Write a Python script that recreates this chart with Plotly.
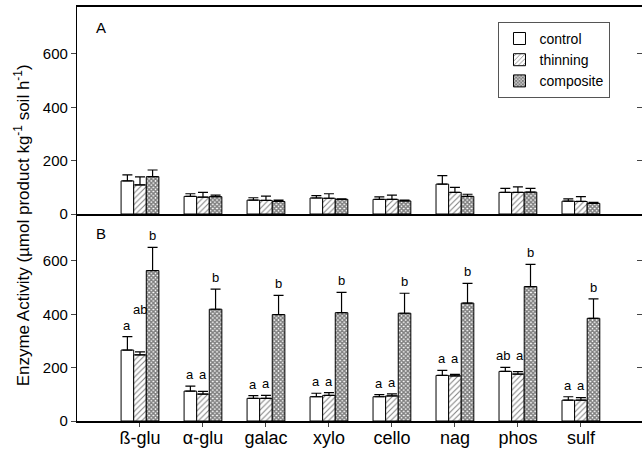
import plotly.graph_objects as go
from plotly.subplots import make_subplots

categories = ["ß-glu", "α-glu", "galac", "xylo", "cello", "nag", "phos", "sulf"]
series_names = ["control", "thinning", "composite"]

# Panel A values and upper error-bar tips
a_control = [124, 66, 52, 60, 55, 112, 81, 48]
a_control_top = [147, 76, 61, 69, 64, 144, 96, 57]
a_thinning = [109, 63, 51, 59, 55, 81, 81, 47]
a_thinning_top = [139, 81, 67, 76, 71, 100, 102, 65]
a_composite = [140, 65, 47, 55, 49, 66, 82, 40]
a_composite_top = [165, 71, 52, 57, 52, 74, 96, 44]

# Panel B values and upper error-bar tips
b_control = [266, 112, 85, 91, 91, 171, 186, 78]
b_control_top = [316, 131, 95, 104, 99, 190, 201, 91]
b_thinning = [248, 101, 85, 96, 94, 169, 176, 78]
b_thinning_top = [259, 111, 96, 106, 102, 175, 185, 88]
b_composite = [564, 419, 399, 406, 404, 442, 504, 385]
b_composite_top = [651, 494, 471, 482, 479, 516, 587, 458]

b_control_letters = ["a", "a", "a", "a", "a", "a", "ab", "a"]
b_thinning_letters = ["ab", "a", "a", "a", "a", "a", "a", "a"]
b_composite_letters = ["b", "b", "b", "b", "b", "b", "b", "b"]

y_ticks = [0, 200, 400, 600]
y_max = 776

FONT = "Liberation Sans, Arial, sans-serif"
xpos = list(range(1, len(categories) + 1))

patterns = [
    dict(shape="", fillmode="replace"),
    dict(shape="/", size=4, solidity=0.25, fgcolor="black", bgcolor="white"),
    dict(shape="x", size=3, solidity=0.75, fgcolor="black", bgcolor="white"),
]

fig = make_subplots(rows=2, cols=1, shared_xaxes=True, vertical_spacing=0)

panels = [
    (1, [a_control, a_thinning, a_composite], [a_control_top, a_thinning_top, a_composite_top]),
    (2, [b_control, b_thinning, b_composite], [b_control_top, b_thinning_top, b_composite_top]),
]
for row, vals, tops in panels:
    for i, name in enumerate(series_names):
        v = vals[i]
        t = tops[i]
        fig.add_trace(
            go.Bar(
                x=xpos, y=v, name=name, showlegend=(row == 1),
                marker=dict(color="white", line=dict(color="black", width=1),
                            pattern=patterns[i]),
                error_y=dict(type="data", symmetric=False,
                             array=[tt - vv for tt, vv in zip(t, v)],
                             arrayminus=[0] * len(v),
                             color="black", thickness=1.2, width=5),
            ),
            row=row, col=1,
        )

# significance letters in panel B
offsets = [-0.2, 0.0, 0.2]
letter_sets = [b_control_letters, b_thinning_letters, b_composite_letters]
tops_b = [b_control_top, b_thinning_top, b_composite_top]
for s in range(3):
    for k, letter in enumerate(letter_sets[s]):
        base = tops_b[s][k]
        shift = 2
        xs = 0
        if s == 1:
            base = max(base, tops_b[0][k])
            if len(letter) > 1:
                shift += 16
            elif len(letter_sets[0][k]) > 1:
                xs = 2
        if s == 0 and len(letter) > 1:
            xs = -2
        fig.add_annotation(
            x=xpos[k] + offsets[s], y=base, xref="x2", yref="y2",
            text=letter, showarrow=False, yanchor="bottom", yshift=shift, xshift=xs,
            font=dict(family=FONT, size=13, color="black"),
        )

# invisible traces for right-side inside ticks
for row in (1, 2):
    fig.add_trace(go.Scatter(x=[1], y=[0], mode="markers", marker=dict(opacity=0),
                             showlegend=False, hoverinfo="skip",
                             yaxis="y3" if row == 1 else "y4", xaxis="x" if row == 1 else "x2"))

axis_common = dict(range=[0, y_max], tickvals=y_ticks, ticks="outside", ticklen=5,
                   tickwidth=1, showline=True, linecolor="black", linewidth=1.2,
                   showgrid=False, zeroline=False,
                   tickfont=dict(family=FONT, size=15, color="black"))

fig.update_layout(
    width=642, height=457,
    margin=dict(l=77, r=0, t=7, b=36),
    paper_bgcolor="white", plot_bgcolor="white",
    barmode="group", bargap=0.4, bargroupgap=0,
    font=dict(family=FONT, color="black"),
    xaxis=dict(range=[0, 8.97], showline=True, mirror=True, linecolor="black",
               linewidth=1.5, ticks="", showticklabels=False, showgrid=False,
               zeroline=False),
    xaxis2=dict(range=[0, 8.97], tickvals=xpos, ticktext=categories, ticks="outside",
                ticklen=4, showline=True, linecolor="black", linewidth=1.5,
                showgrid=False, zeroline=False, ticklabelstandoff=-4,
                tickfont=dict(family=FONT, size=18, color="black")),
    yaxis=dict(domain=[0.5, 1], **axis_common),
    yaxis2=dict(domain=[0, 0.5], **axis_common),
    yaxis3=dict(overlaying="y", side="right", anchor="x", range=[0, y_max],
                tickvals=[200, 400, 600], ticks="inside", ticklen=5,
                showticklabels=False, showline=False, showgrid=False, zeroline=False),
    yaxis4=dict(overlaying="y2", side="right", anchor="x2", range=[0, y_max],
                tickvals=[200, 400, 600], ticks="inside", ticklen=5,
                showticklabels=False, showline=False, showgrid=False, zeroline=False),
    legend=dict(x=0.746, y=0.964, xanchor="left", yanchor="top",
                bgcolor="white", bordercolor="#555555", borderwidth=1,
                font=dict(family=FONT, size=14, color="black"),
                itemwidth=30, tracegroupgap=0),
    showlegend=True,
)

fig.add_annotation(x=0.03, y=0.975, xref="paper", yref="paper", text="A",
                   showarrow=False, xanchor="left", yanchor="top",
                   font=dict(family=FONT, size=15, color="black"))
fig.add_annotation(x=0.03, y=0.478, xref="paper", yref="paper", text="B",
                   showarrow=False, xanchor="left", yanchor="top",
                   font=dict(family=FONT, size=15, color="black"))
fig.add_annotation(
    x=-0.097, y=0.473, xref="paper", yref="paper", textangle=-90,
    text="Enzyme Activity (µmol product kg<sup>-1</sup> soil h<sup>-1</sup>)",
    showarrow=False, xanchor="center", yanchor="middle",
    font=dict(family=FONT, size=17, color="black"),
)

fig.write_html(
    "out.html",
    config={"displayModeBar": False},
    post_script=("var st=document.createElement('style');"
                 "st.innerHTML='html,body{margin:0;padding:0;overflow:hidden;"
                 "height:457px;width:642px;scrollbar-width:none;}"
                 "::-webkit-scrollbar{display:none;width:0;height:0;}';"
                 "document.head.appendChild(st);"),
)
